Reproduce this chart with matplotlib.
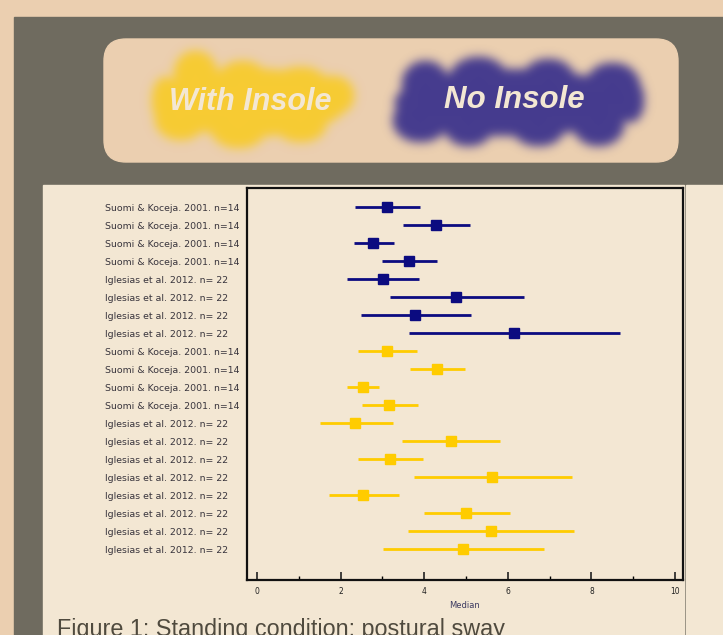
import numpy as np
import matplotlib
matplotlib.use("Agg")
import matplotlib.pyplot as plt
from matplotlib.patches import Rectangle, FancyBboxPatch

# --- data: forest plot, median with lower/upper bounds ---
labels = (["Suomi & Koceja. 2001. n=14"] * 4 + ["Iglesias et al. 2012. n= 22"] * 4
          + ["Suomi & Koceja. 2001. n=14"] * 4 + ["Iglesias et al. 2012. n= 22"] * 8)
groups = ["No Insole"] * 8 + ["With Insole"] * 12
median = [3.11, 4.29, 2.78, 3.64, 3.02, 4.76, 3.78, 6.15,
          3.11, 4.31, 2.54, 3.16, 2.35, 4.64, 3.19, 5.62, 2.54, 5.00, 5.60, 4.93]
lower = [2.35, 3.50, 2.33, 3.00, 2.15, 3.19, 2.49, 3.64,
         2.42, 3.66, 2.15, 2.52, 1.51, 3.47, 2.42, 3.76, 1.73, 4.00, 3.62, 3.02]
upper = [3.90, 5.10, 3.28, 4.31, 3.88, 6.39, 5.12, 8.68,
         3.83, 4.98, 2.92, 3.86, 3.26, 5.82, 3.97, 7.54, 3.40, 6.05, 7.59, 6.87]
colors = {"No Insole": "#0b0b80", "With Insole": "#ffcc00"}

W, H = 723, 635
fig = plt.figure(figsize=(W / 100, H / 100), dpi=100)
fig.patch.set_facecolor("#ebcfb0")

# background canvas in pixel coordinates
bg = fig.add_axes([0, 0, 1, 1])
bg.set_xlim(0, W)
bg.set_ylim(H, 0)
bg.axis("off")
bg.add_patch(Rectangle((14, 17), W, H, color="#6f6b5f", zorder=1))
bg.add_patch(Rectangle((43, 185), 641, H, color="#f3e7d3", zorder=2))
bg.add_patch(Rectangle((686, 185), 40, H, color="#f3e7d3", zorder=2))
bg.add_patch(FancyBboxPatch((104 + 22, 39 + 22), 574 - 44, 123 - 44,
                            boxstyle="round,pad=22", color="#ebcfb0", zorder=3))


# blurred legend blobs
def blob(shapes, x0, x1, y0, y1, sigma=5.0):
    xs = np.arange(x0, x1)
    ys = np.arange(y0, y1)
    gx, gy = np.meshgrid(xs, ys)
    mask = np.zeros(gx.shape)
    for cx, cy, rx, ry in shapes:
        mask[((gx - cx) / rx) ** 2 + ((gy - cy) / ry) ** 2 <= 1] = 1.0
    k = np.arange(-16, 17)
    kern = np.exp(-0.5 * (k / sigma) ** 2)
    kern /= kern.sum()
    mask = np.apply_along_axis(lambda r: np.convolve(r, kern, mode="same"), 1, mask)
    mask = np.apply_along_axis(lambda c: np.convolve(c, kern, mode="same"), 0, mask)
    return mask


def draw_blob(shapes, color, box):
    x0, x1, y0, y1 = box
    m = blob(shapes, x0, x1, y0, y1)
    img = np.zeros(m.shape + (4,))
    img[..., :3] = matplotlib.colors.to_rgb(color)
    img[..., 3] = m
    bg.imshow(img, extent=(x0, x1, y1, y0), zorder=4, interpolation="bilinear")


yellow_shapes = [(252, 102, 95, 34), (195, 74, 22, 24), (242, 82, 26, 22),
                 (300, 86, 28, 20), (332, 95, 22, 20), (180, 118, 26, 22),
                 (238, 128, 28, 20), (300, 124, 26, 18), (165, 100, 14, 24)]
blue_shapes = [(512, 102, 118, 34), (425, 84, 24, 24), (478, 80, 30, 24),
               (548, 82, 28, 24), (612, 86, 28, 24), (420, 120, 28, 22),
               (468, 128, 24, 18), (538, 128, 26, 18), (598, 124, 26, 22),
               (630, 100, 14, 22)]
draw_blob(yellow_shapes, "#f7cb33", (125, 385, 38, 165))
draw_blob(blue_shapes, "#453b8e", (360, 670, 38, 165))

bg.text(250, 102, "With Insole", color="#f3e7d3", fontsize=22, fontweight="bold",
        fontstyle="italic", family="Liberation Sans", ha="center", va="center", zorder=5)
bg.text(514, 100, "No Insole", color="#f3e7d3", fontsize=22.5, fontweight="bold",
        fontstyle="italic", family="Liberation Sans", ha="center", va="center", zorder=5)
bg.text(57, 636, "Figure 1: Standing condition: postural sway", color="#4f4a3e",
        fontsize=16.8, family="Liberation Sans", ha="left", va="baseline", zorder=5)

# forest plot
ax = fig.add_axes([247 / W, 1 - 580 / H, (683 - 247) / W, (580 - 188) / H])
ax.set_facecolor("#f3e7d3")
y = np.arange(len(labels))
for i in range(len(labels)):
    c = colors[groups[i]]
    ax.plot([lower[i], upper[i]], [y[i], y[i]], color=c, lw=2.0, solid_capstyle="butt")
    ax.plot(median[i], y[i], marker="s", ms=7, color=c, mec=c)

ax.set_xlim(-0.24, 10.19)
ax.set_ylim(19 + 31 / 18, -19 / 18)
ax.set_yticks(y)
ax.set_yticklabels(labels, fontsize=6.75, color="#38343c", family="DejaVu Sans", ha="left")
# labels are left-aligned, starting at x = 105 px
ax.tick_params(axis="y", length=0, pad=(247 - 105) * 0.72)
ax.set_xticks(range(0, 11, 2))
ax.set_xticks(range(1, 11, 2), minor=True)
ax.tick_params(axis="x", which="major", direction="in", length=6, width=1.2,
               labelsize=5.5, pad=5, colors="#222222")
ax.tick_params(axis="x", which="minor", direction="in", length=3, width=1.0)
ax.set_xlabel("Median", fontsize=6, color="#3c3a60", labelpad=4)
for s in ax.spines.values():
    s.set_linewidth(1.6)
    s.set_color("#111111")

fig.savefig("out.png", dpi=100, facecolor=fig.get_facecolor())
